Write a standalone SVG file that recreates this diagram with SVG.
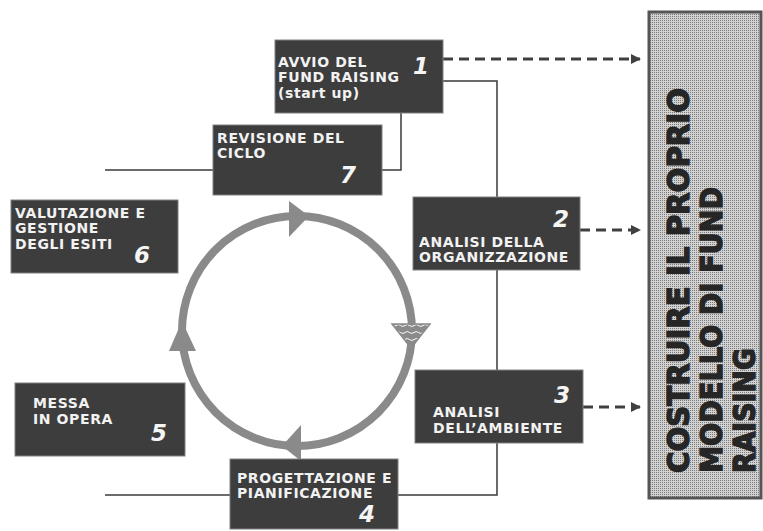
<svg xmlns="http://www.w3.org/2000/svg" width="763" height="531" viewBox="0 0 763 531">
<defs>
<style>
.box{fill:#3d3d3d;stroke:#808080;stroke-width:1}
.lbl{font-family:"DejaVu Sans","Liberation Sans",sans-serif;font-weight:bold;font-size:14px;letter-spacing:0.6px;fill:#f2f2f2}
.num{font-family:"DejaVu Sans","Liberation Sans",sans-serif;font-weight:bold;font-style:italic;font-size:23px;fill:#f5f5f5}
.ln{fill:none;stroke:#3a3a3a;stroke-width:1.5}
.dash{fill:none;stroke:#404040;stroke-width:3;stroke-dasharray:10 6}
.big{font-family:"DejaVu Sans","Liberation Sans",sans-serif;font-weight:bold;font-size:31px;fill:#262626;stroke:#262626;stroke-width:1.4}
.arr{fill:#8a8a8a}
</style>
<pattern id="dots" width="2" height="2" patternUnits="userSpaceOnUse">
<rect width="2" height="2" fill="#d2d2d2"/>
<rect width="1" height="1" fill="#7a7a7a"/>
</pattern>
<pattern id="wave" width="9" height="7" patternUnits="userSpaceOnUse">
<rect width="9" height="7" fill="#8a8a8a"/>
<path d="M0 3.5 Q2.25 1.5 4.5 3.5 T9 3.5" fill="none" stroke="#ffffff" stroke-width="1"/>
</pattern>
<marker id="ah" markerWidth="10" markerHeight="10" refX="9" refY="5" orient="auto" markerUnits="userSpaceOnUse" viewBox="0 0 10 10">
<path d="M0 0 L10 5 L0 10 Z" fill="#404040"/>
</marker>
</defs>
<rect width="763" height="531" fill="#ffffff"/>

<g id="connectors">
<path class="ln" d="M443 81 H497 V197"/>
<path class="ln" d="M497 270 V370"/>
<path class="ln" d="M497 443 V495 H398"/>
<path class="ln" d="M382 170 H401 V113"/>
<path class="ln" d="M105 170 H213"/>
<path class="ln" d="M105 495 H230"/>
<path class="dash" d="M443 59 H640" marker-end="url(#ah)"/>
<path class="dash" d="M580 230 H640" marker-end="url(#ah)"/>
<path class="dash" d="M583 407 H640" marker-end="url(#ah)"/>
</g>

<g id="cycle">
<circle cx="297" cy="331" r="115" fill="none" stroke="#8a8a8a" stroke-width="8"/>
<path class="arr" d="M289 201 L309 216 L289 237 Z"/>
<path class="arr" d="M301 425 L282 446 L301 461 Z"/>
<path class="arr" d="M169 351 L182 321 L196 351 Z"/>
<path d="M392 324 L430 324 L411 348 Z" fill="url(#wave)" stroke="#8a8a8a" stroke-width="1.5"/>
</g>

<g id="node1">
<rect class="box" x="275" y="40" width="168" height="73"/>
<text class="lbl" x="278" y="67">AVVIO DEL</text>
<text class="lbl" x="278" y="82">FUND RAISING</text>
<text class="lbl" x="278" y="98">(start up)</text>
<text class="num" x="413" y="74">1</text>
</g>

<g id="node2">
<rect class="box" x="413" y="197" width="167" height="73"/>
<text class="lbl" x="419" y="247">ANALISI DELLA</text>
<text class="lbl" x="419" y="262">ORGANIZZAZIONE</text>
<text class="num" x="553" y="227">2</text>
</g>

<g id="node3">
<rect class="box" x="415" y="370" width="168" height="73"/>
<text class="lbl" x="433" y="417">ANALISI</text>
<text class="lbl" x="433" y="433">DELL’AMBIENTE</text>
<text class="num" x="554" y="403">3</text>
</g>

<g id="node4">
<rect class="box" x="230" y="459" width="168" height="70"/>
<text class="lbl" x="237" y="483">PROGETTAZIONE E</text>
<text class="lbl" x="237" y="498">PIANIFICAZIONE</text>
<text class="num" x="359" y="522">4</text>
</g>

<g id="node5">
<rect class="box" x="15" y="383" width="170" height="73"/>
<text class="lbl" x="33" y="408">MESSA</text>
<text class="lbl" x="33" y="424">IN OPERA</text>
<text class="num" x="151" y="441">5</text>
</g>

<g id="node6">
<rect class="box" x="11" y="200" width="167" height="73"/>
<text class="lbl" x="15" y="218">VALUTAZIONE E</text>
<text class="lbl" x="15" y="233">GESTIONE</text>
<text class="lbl" x="15" y="249">DEGLI ESITI</text>
<text class="num" x="134" y="263">6</text>
</g>

<g id="node7">
<rect class="box" x="213" y="125" width="169" height="70"/>
<text class="lbl" x="217" y="143">REVISIONE DEL</text>
<text class="lbl" x="217" y="158">CICLO</text>
<text class="num" x="340" y="183">7</text>
</g>

<g id="goal">
<rect x="649" y="12" width="112" height="486" fill="url(#dots)" stroke="#555555" stroke-width="3"/>
<text class="big" transform="translate(689 473) rotate(-90)" textLength="385" lengthAdjust="spacingAndGlyphs">COSTRUIRE IL PROPRIO</text>
<text class="big" transform="translate(722 473) rotate(-90)" textLength="286" lengthAdjust="spacingAndGlyphs">MODELLO DI FUND</text>
<text class="big" transform="translate(755 473) rotate(-90)" textLength="125" lengthAdjust="spacingAndGlyphs">RAISING</text>
</g>
</svg>
